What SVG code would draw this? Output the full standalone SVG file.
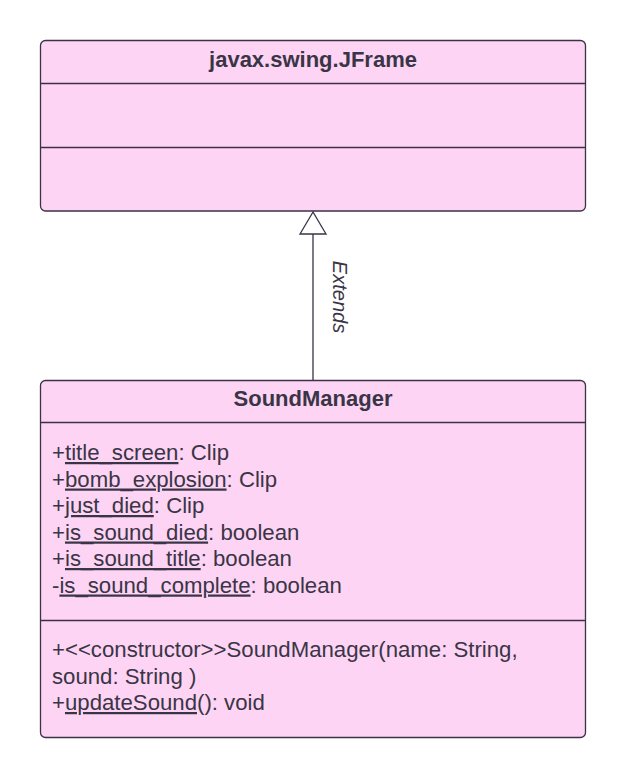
<svg xmlns="http://www.w3.org/2000/svg" width="625" height="778" viewBox="0 0 625 778">
<style>
.box{fill:#fdd4f4;stroke:#3b3246;stroke-width:1.3}
.sep{stroke:#3b3246;stroke-width:1.3}
.title{font-family:"Liberation Sans",Arial,sans-serif;font-size:22px;font-weight:bold;fill:#3a3546;text-anchor:middle}
.txt{font-family:"Liberation Sans",Arial,sans-serif;font-size:22.2px;fill:#3a3546}
.u{text-decoration:underline}
.lbl{font-family:"Liberation Sans",Arial,sans-serif;font-size:20px;font-style:italic;fill:#3a3546;text-anchor:middle}
.conn{stroke:#3b3246;stroke-width:1.3;fill:none}
</style>
<rect width="625" height="778" fill="#ffffff"/>
<g id="connectors">
<line class="conn" x1="313" y1="380" x2="313" y2="234"/>
<polygon points="313,212 300,234 326,234" fill="#ffffff" stroke="#3b3246" stroke-width="1.3"/>
<text class="lbl" x="333" y="297" transform="rotate(90 333 297)">Extends</text>
</g>
<g id="jframe">
<rect class="box" x="40.5" y="40.5" width="545" height="170.5" rx="5"/>
<line class="sep" x1="40.5" y1="83.5" x2="585.5" y2="83.5"/>
<line class="sep" x1="40.5" y1="147.5" x2="585.5" y2="147.5"/>
<text class="title" x="313" y="66.5">javax.swing.JFrame</text>
</g>
<g id="soundmanager">
<rect class="box" x="40.5" y="380.5" width="545" height="357" rx="5"/>
<line class="sep" x1="40.5" y1="422.5" x2="585.5" y2="422.5"/>
<line class="sep" x1="40.5" y1="620.5" x2="585.5" y2="620.5"/>
<text class="title" x="313" y="406">SoundManager</text>
<text class="txt" x="52" y="460">+<tspan class="u">title_screen</tspan>: Clip</text>
<text class="txt" x="52" y="486.5">+<tspan class="u">bomb_explosion</tspan>: Clip</text>
<text class="txt" x="52" y="513">+<tspan class="u">just_died</tspan>: Clip</text>
<text class="txt" x="52" y="539.5">+<tspan class="u">is_sound_died</tspan>: boolean</text>
<text class="txt" x="52" y="566">+<tspan class="u">is_sound_title</tspan>: boolean</text>
<text class="txt" x="52" y="592.5">-<tspan class="u">is_sound_complete</tspan>: boolean</text>
<text class="txt" x="52" y="657">+&lt;&lt;constructor&gt;&gt;SoundManager(name: String,</text>
<text class="txt" x="52" y="683.5">sound: String )</text>
<text class="txt" x="52" y="710">+<tspan class="u">updateSound</tspan>(): void</text>
</g>
</svg>
